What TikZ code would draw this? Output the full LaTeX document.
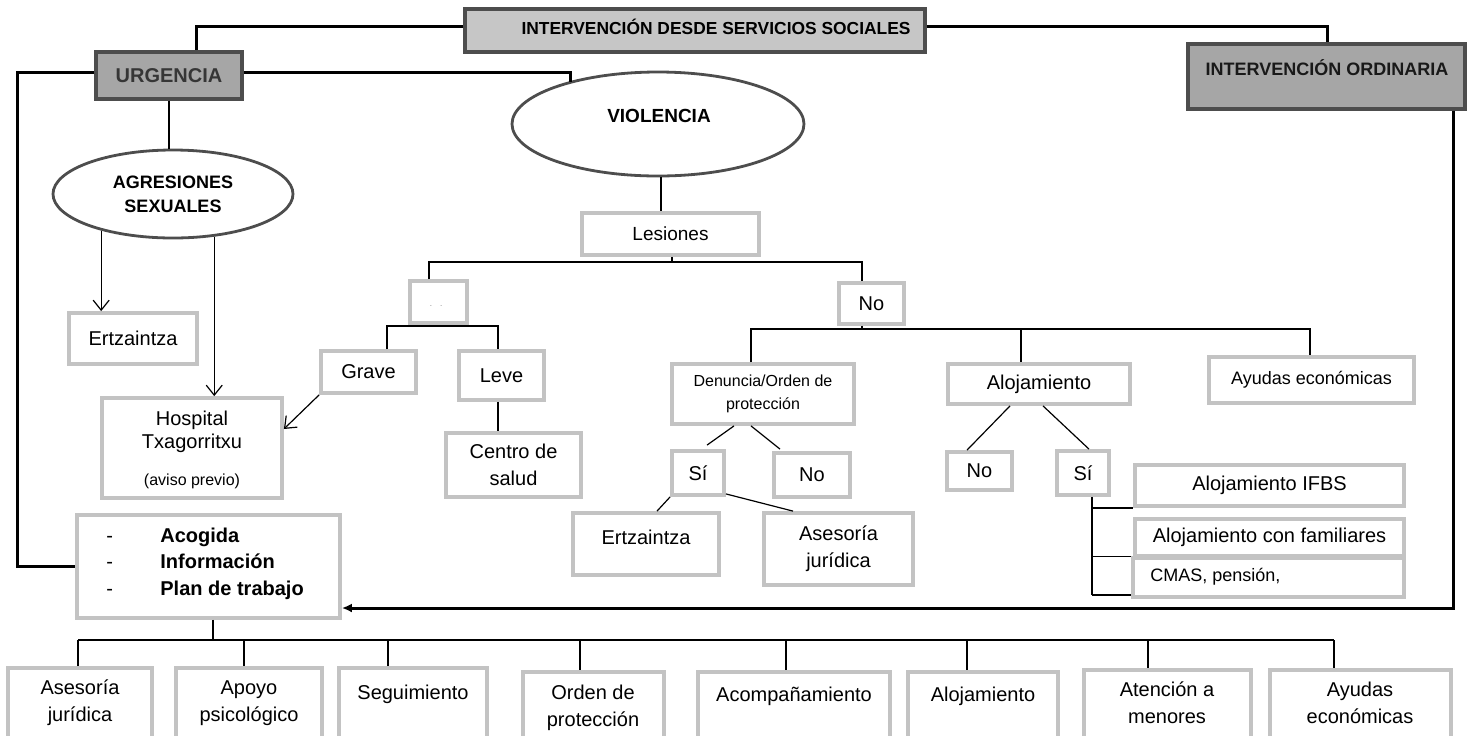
\documentclass[tikz,border=0pt]{standalone}
\usepackage{fontspec}
\setmainfont{Liberation Sans}
\usetikzlibrary{shapes.geometric,arrows.meta}
\definecolor{bxg}{HTML}{C3C3C3}
\definecolor{dkg}{HTML}{A6A6A6}
\definecolor{ltg}{HTML}{C6C6C6}
\definecolor{edg}{HTML}{4D4D4D}
\newcommand\myfs[2]{\fontsize{#1}{#2}\selectfont}
\begin{document}
\begin{tikzpicture}[x=0.5pt,y=-0.5pt,
 bx/.style n args={4}{at={({(#1+#3)/2},{(#2+#4)/2})},minimum width={(#3-#1)*0.5pt},minimum height={(#4-#2)*0.5pt}},
 gbox/.style={draw=bxg,line width=1.9pt,inner sep=0pt,align=center,font=\myfs{10}{13.5}},
 dbox/.style={draw=edg,fill=dkg,line width=1.6pt,inner sep=0pt},
 lbox/.style={draw=edg,fill=ltg,line width=1.6pt,inner sep=0pt},
 ell/.style={draw=edg,ellipse,line width=1.4pt,inner sep=0pt,align=center},
 thk/.style={line width=1.5pt},
 thn/.style={line width=0.6pt},
 arr/.style={thn,-{Straight Barb[length=5pt,width=8pt]}},
 txt/.style={inner sep=0pt,align=center,font=\myfs{10}{13.5}},
]
\clip (0,0) rectangle (1478,735);
\fill[white] (0,0) rectangle (1478,735);

% header boxes
\node[lbox,bx={465}{9}{925}{52}] (top) {};
\node[txt,font=\bfseries\myfs{8.7}{10}] (toptx) at (716,27) {INTERVENCIÓN DESDE SERVICIOS SOCIALES};
\node[dbox,bx={96}{52}{242}{99},font=\bfseries\myfs{10}{12},text=edg!70!black] (urg) {URGENCIA};
\node[dbox,bx={1188}{44}{1465}{109}] (ord) {};
\node[txt,font=\bfseries\myfs{9}{11},text=black!90] (ordtx) at (1327,68) {INTERVENCIÓN ORDINARIA};

% ellipses
\node[ell,minimum width=146pt,minimum height=52pt] (viol) at (658,124) {};
\node[txt,font=\bfseries\myfs{9.5}{11}] (violtx) at (659,116) {VIOLENCIA};
\node[ell,minimum width=120pt,minimum height=44pt,font=\bfseries\myfs{9}{12}] (agr) at (173,194) {AGRESIONES\\SEXUALES};

% left column
\node[gbox,bx={69}{313}{197}{364}] (ertz1) {Ertzaintza};
\node[gbox,bx={102}{398}{282}{498}] (hosp) {};
\node[txt,font=\myfs{10}{11.5}] (hosptx) at (192,432) {Hospital\\Txagorritxu};
\node[txt,font=\myfs{8}{9}] (avtx) at (192,481) {(aviso previo)};
\node[gbox,bx={77}{515}{340}{618}] (acog) {};
\node[txt,anchor=west,align=left,font=\myfs{10}{13.25}] (acogtx) at (106,563.5)
  {\makebox[27pt][l]{-}\textbf{Acogida}\\\makebox[27pt][l]{-}\textbf{Información}\\\makebox[27pt][l]{-}\textbf{Plan de trabajo}};

% violence tree
\node[gbox,bx={582}{213}{759}{255},font=\myfs{9.5}{11}] (les) {Lesiones};
\node[gbox,bx={410}{281}{467}{323}] (dotb) {};
\node[txt,font=\myfs{4}{5},text=gray] (dottx) at (436,306) {.\hspace{4pt}.};
\node[gbox,bx={321}{351}{416}{393}] (grave) {Grave};
\node[gbox,bx={459}{351}{544}{400}] (leve) {Leve};
\node[gbox,bx={446}{433}{581}{497}] (centro) {Centro de\\salud};
\node[gbox,bx={839}{283}{904}{324}] (no1) {No};
\node[gbox,bx={672}{364}{854}{424},font=\myfs{8}{11.5}] (den) {Denuncia/Orden de\\protección};
\node[gbox,bx={672}{451}{724}{495}] (si1) {Sí};
\node[gbox,bx={774}{453}{850}{497}] (no2) {No};
\node[gbox,bx={573}{513}{719}{575}] (ertz2) {};
\node[txt] (ertz2tx) at (646,537) {Ertzaintza};
\node[gbox,bx={764}{513}{913}{585}] (ases1) {Asesoría\\jurídica};
\node[gbox,bx={948}{364}{1130}{404}] (aloj) {Alojamiento};
\node[gbox,bx={947}{452}{1012}{490}] (no3) {No};
\node[gbox,bx={1057}{451}{1109}{495}] (si2) {Sí};
\node[gbox,bx={1209}{357}{1414}{403},font=\myfs{9}{11}] (ayu1) {Ayudas económicas};
\node[gbox,bx={1135}{465}{1404}{506}] (ifbs) {Alojamiento IFBS};
\node[gbox,bx={1135}{519}{1404}{556}] (fam) {Alojamiento con familiares};
\node[gbox,bx={1133}{558}{1404}{597}] (cmas) {};
\node[txt,anchor=west,font=\myfs{9}{11}] (cmastx) at (1150,577) {CMAS, pensión,};

% bottom row
\node[gbox,bx={8}{668}{152}{745}] (b1) {};
\node[gbox,bx={176}{668}{322}{745}] (b2) {};
\node[gbox,bx={339}{668}{487}{745}] (b3) {};
\node[gbox,bx={523}{672}{664}{745}] (b4) {};
\node[gbox,bx={698}{672}{890}{745}] (b5) {};
\node[gbox,bx={908}{672}{1058}{745}] (b6) {};
\node[gbox,bx={1084}{670}{1251}{745}] (b7) {};
\node[gbox,bx={1270}{670}{1451}{745}] (b8) {};
\node[txt] (b1tx) at (80,703) {Asesoría\\jurídica};
\node[txt] (b2tx) at (249,703) {Apoyo\\psicológico};
\node[txt] (b3tx) at (413,694) {Seguimiento};
\node[txt] (b4tx) at (593,708) {Orden de\\protección};
\node[txt] (b5tx) at (794,696) {Acompañamiento};
\node[txt] (b6tx) at (983,696) {Alojamiento};
\node[txt] (b7tx) at (1167,703) {Atención a\\menores};
\node[txt] (b8tx) at (1360,703) {Ayudas\\económicas};

% thick connectors
\coordinate (tl) at (196,26);
\coordinate (tr) at (1327,26);
\draw[thk] (top.west |- tl) -- (tl) -- (tl |- urg.north);
\draw[thk] (top.east |- tr) -- (tr) -- (tr |- ord.north);
\coordinate (ul) at (17,72);
\draw[thk] (urg.west |- ul) -- (ul) |- (acog.west);
\coordinate (ur) at (570,72);
\draw[thk] (urg.east |- ur) -- (ur) -- (ur |- viol.155);
\coordinate (oc) at (1453,608);
\draw[thk,-{Latex[length=5pt,width=4.5pt]}] (oc |- ord.south) -- (oc) -- (acog.east |- oc);

% thin connectors, left
\draw[thn] (urg.south) -- (urg.south |- agr.north);
\draw[arr] (agr.207) -- (ertz1.north -| agr.207);
\draw[arr] (agr.314) -- (hosp.north -| agr.314);
\draw[arr] (grave.south west) -- ([yshift=9.5pt]hosp.east);

% violence tree connectors
\coordinate (vx) at (661,0);
\draw[thn] (vx |- viol.south) -- (vx |- les.north);
\coordinate (j0) at (672,262);
\coordinate (jd) at (429,262);
\coordinate (jn) at (862,262);
\draw[thn] (les.south -| j0) -- (j0);
\draw[thn] (jd |- dotb.north) -- (jd) -- (jn) -- (jn |- no1.north);
\coordinate (kd) at (429,326);
\coordinate (kg) at (387,326);
\coordinate (kl) at (498,326);
\draw[thn] (kd |- dotb.south) -- (kd);
\draw[thn] (kg |- grave.north) -- (kg) -- (kl) -- (kl |- leve.north);
\draw[thn] (kl |- leve.south) -- (kl |- centro.north);
\coordinate (kn) at (862,329);
\coordinate (kden) at (751,329);
\coordinate (kal) at (1021,329);
\coordinate (kay) at (1310,329);
\draw[thn] (kn |- no1.south) -- (kn);
\draw[thn] (kden |- den.north) -- (kden) -- (kay) -- (kay |- ayu1.north);
\draw[thn] (kal) -- (kal |- aloj.north);
\draw[thn] ([xshift=-14.5pt]den.south) -- ([xshift=4.5pt,yshift=2pt]si1.north);
\draw[thn] ([xshift=-6pt]den.south) -- ([xshift=-16pt,yshift=1pt]no2.north);
\draw[thn] (si1.south west) -- ([xshift=5.5pt]ertz2.north);
\draw[thn] ([yshift=1.5pt]si1.south east) -- ([xshift=-22.75pt]ases1.north);
\draw[thn] ([xshift=-14.5pt]aloj.south) -- ([xshift=-6.25pt]no3.north);
\draw[thn] ([xshift=2pt]aloj.south) -- ([xshift=3pt]si2.north);
\coordinate (sv) at (1092,595);
\draw[thn] (sv |- si2.south) -- (sv);
\draw[thn] (sv |- ifbs.south west) -- (ifbs.south west);
\draw[thn] (sv |- cmas.north west) -- (cmas.north west);
\draw[thn] (sv) -- (cmas.south west |- sv);

% bottom bus
\coordinate (bus0) at (213,640);
\draw[thn] (acog.south -| bus0) -- (bus0);
\coordinate (c1) at (78,640);
\coordinate (c2) at (244,640);
\coordinate (c3) at (388,640);
\coordinate (c4) at (580,640);
\coordinate (c5) at (786,640);
\coordinate (c6) at (967,640);
\coordinate (c7) at (1148,640);
\coordinate (c8) at (1334,640);
\draw[thn] (c1) -- (c8);
\foreach \i in {1,...,8} \draw[thn] (c\i) -- (c\i |- b\i.north);
\end{tikzpicture}
\end{document}
